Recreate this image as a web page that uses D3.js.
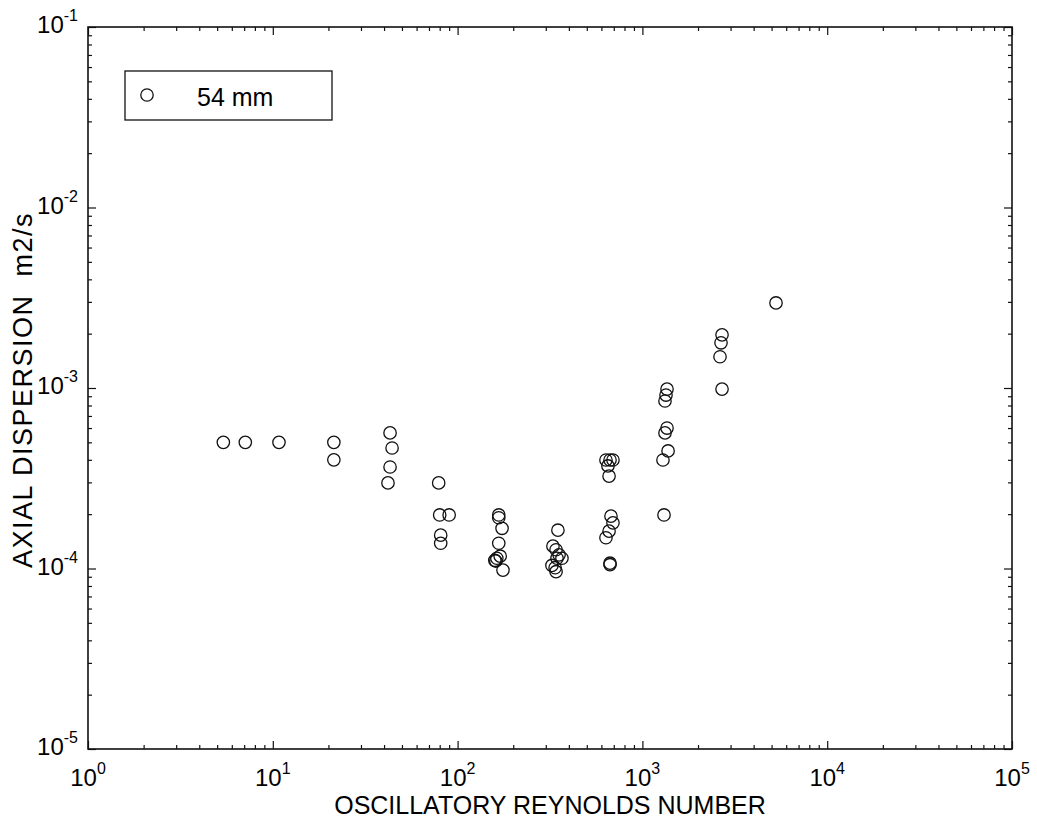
<!DOCTYPE html>
<html>
<head>
<meta charset="utf-8">
<script src="https://cdn.jsdelivr.net/npm/d3@7"></script>
<style>
  body { margin: 0; background: #fff; }
  svg { display: block; font-family: "Liberation Sans", Arial, sans-serif; }
  .axis path, .axis line { stroke: #111; }
</style>
</head>
<body>
<svg id="chart"></svg>
<script>
// oscillatory Reynolds number vs axial dispersion (m2/s), 54 mm tube
const reynolds = [5.4, 7.1, 10.8, 21.4, 21.4,
  43.1, 44.2, 43.1, 42.0,
  79, 80, 90, 81, 81,
  167, 167, 174, 167, 163, 159, 161, 170, 176,
  349, 328, 341, 345, 367, 324, 337, 341, 354,
  635, 676, 693, 660, 668, 635, 693, 651, 660, 668, 668,
  1359, 1342, 1325, 1359, 1325, 1377, 1292, 1309,
  2697, 2663, 2630, 2697, 5284];
const dispersion = [5.0e-4, 5.0e-4, 5.0e-4, 5.0e-4, 4.0e-4,
  5.64e-4, 4.65e-4, 3.65e-4, 2.98e-4,
  2.98e-4, 1.98e-4, 1.98e-4, 1.53e-4, 1.38e-4,
  1.98e-4, 1.91e-4, 1.67e-4, 1.38e-4, 1.14e-4, 1.11e-4, 1.10e-4, 1.17e-4, 0.98e-4,
  1.63e-4, 1.33e-4, 1.27e-4, 1.14e-4, 1.14e-4, 1.04e-4, 1.01e-4, 0.96e-4, 1.19e-4,
  1.48e-4, 1.95e-4, 1.79e-4, 1.61e-4, 3.99e-4, 3.99e-4, 3.99e-4, 3.70e-4, 3.25e-4, 1.07e-4, 1.05e-4,
  9.86e-4, 9.14e-4, 8.47e-4, 6.0e-4, 5.64e-4, 4.48e-4, 3.99e-4, 1.98e-4,
  1.97e-3, 1.78e-3, 1.49e-3, 9.86e-4, 2.96e-3];
const xExponents = [0, 1, 2, 3, 4, 5];
const yExponents = [-5, -4, -3, -2, -1];
const legendLabel = "54 mm";
const xTitle = "OSCILLATORY REYNOLDS NUMBER";
const yTitle = "AXIAL DISPERSION  m2/s";

const W = 1037, H = 823;
const margin = { top: 27, right: 25, bottom: 74, left: 88 };
const width = W - margin.left - margin.right;
const height = H - margin.top - margin.bottom;

const svg = d3.select("#chart").attr("width", W).attr("height", H);
const g = svg.append("g").attr("transform", `translate(${margin.left},${margin.top})`);

const x = d3.scaleLog().domain([1, 1e5]).range([0, width]);
const y = d3.scaleLog().domain([1e-5, 1e-1]).range([height, 0]);

const minorOf = (lo, hi) => {
  const out = [];
  for (let e = lo; e < hi; e++) for (let k = 2; k <= 9; k++) out.push(k * Math.pow(10, e));
  return out;
};
const xMajor = xExponents.map(e => Math.pow(10, e));
const yMajor = yExponents.map(e => Math.pow(10, e));
const xMinor = minorOf(0, 5);
const yMinor = minorOf(-5, -1);

// ticks pointing inward on all four sides
function ticks(axisFn, scale, vals, size, tr) {
  g.append("g").attr("class", "axis").attr("transform", tr)
    .call(axisFn(scale).tickValues(vals).tickSize(-size).tickFormat("").tickSizeOuter(0))
    .call(a => a.select(".domain").remove())
    .selectAll("line").attr("stroke-width", 1.2);
}
ticks(d3.axisBottom, x, xMinor, 4, `translate(0,${height})`);
ticks(d3.axisBottom, x, xMajor, 8, `translate(0,${height})`);
ticks(d3.axisTop, x, xMinor, 4, `translate(0,0)`);
ticks(d3.axisTop, x, xMajor, 8, `translate(0,0)`);
ticks(d3.axisLeft, y, yMinor, 4, `translate(0,0)`);
ticks(d3.axisLeft, y, yMajor, 8, `translate(0,0)`);
ticks(d3.axisRight, y, yMinor, 4, `translate(${width},0)`);
ticks(d3.axisRight, y, yMajor, 8, `translate(${width},0)`);

// frame
g.append("rect").attr("width", width).attr("height", height)
  .attr("fill", "none").attr("stroke", "#111").attr("stroke-width", 1.6);

// tick labels 10^n
g.selectAll(".xlab").data(xExponents).join("text")
  .attr("class", "xlab")
  .attr("x", d => x(Math.pow(10, d)))
  .attr("y", height + 37)
  .attr("text-anchor", "middle")
  .attr("font-size", 24)
  .call(t => {
    t.append("tspan").text("10");
    t.append("tspan").attr("dy", -12).attr("font-size", 16).text(d => d);
  });

g.selectAll(".ylab").data(yExponents).join("text")
  .attr("class", "ylab")
  .attr("x", -10)
  .attr("y", d => y(Math.pow(10, d)) + 6)
  .attr("text-anchor", "end")
  .attr("font-size", 24)
  .call(t => {
    t.append("tspan").text("10");
    t.append("tspan").attr("dy", -12).attr("font-size", 16).text(d => d);
  });

// axis titles
svg.append("text")
  .attr("x", margin.left + width / 2)
  .attr("y", 814)
  .attr("text-anchor", "middle")
  .attr("font-size", 25)
  .text(xTitle);

svg.append("text")
  .attr("transform", `translate(32,390) rotate(-90)`)
  .attr("text-anchor", "middle")
  .attr("font-size", 27)
  .attr("letter-spacing", 1.5)
  .style("white-space", "pre")
  .text(yTitle);

// data points
g.selectAll("circle.pt").data(reynolds).join("circle")
  .attr("class", "pt")
  .attr("cx", (d, i) => x(d))
  .attr("cy", (d, i) => y(dispersion[i]))
  .attr("r", 6.2)
  .attr("fill", "none")
  .attr("stroke", "#111")
  .attr("stroke-width", 1.3);

// legend
const lg = svg.append("g").attr("transform", "translate(125,71)");
lg.append("rect").attr("width", 207).attr("height", 49)
  .attr("fill", "#fff").attr("stroke", "#111").attr("stroke-width", 1.3);
lg.append("circle").attr("cx", 22).attr("cy", 24).attr("r", 6.2)
  .attr("fill", "none").attr("stroke", "#111").attr("stroke-width", 1.3);
lg.append("text").attr("x", 72).attr("y", 35).attr("font-size", 25).text(legendLabel);
</script>
</body>
</html>
